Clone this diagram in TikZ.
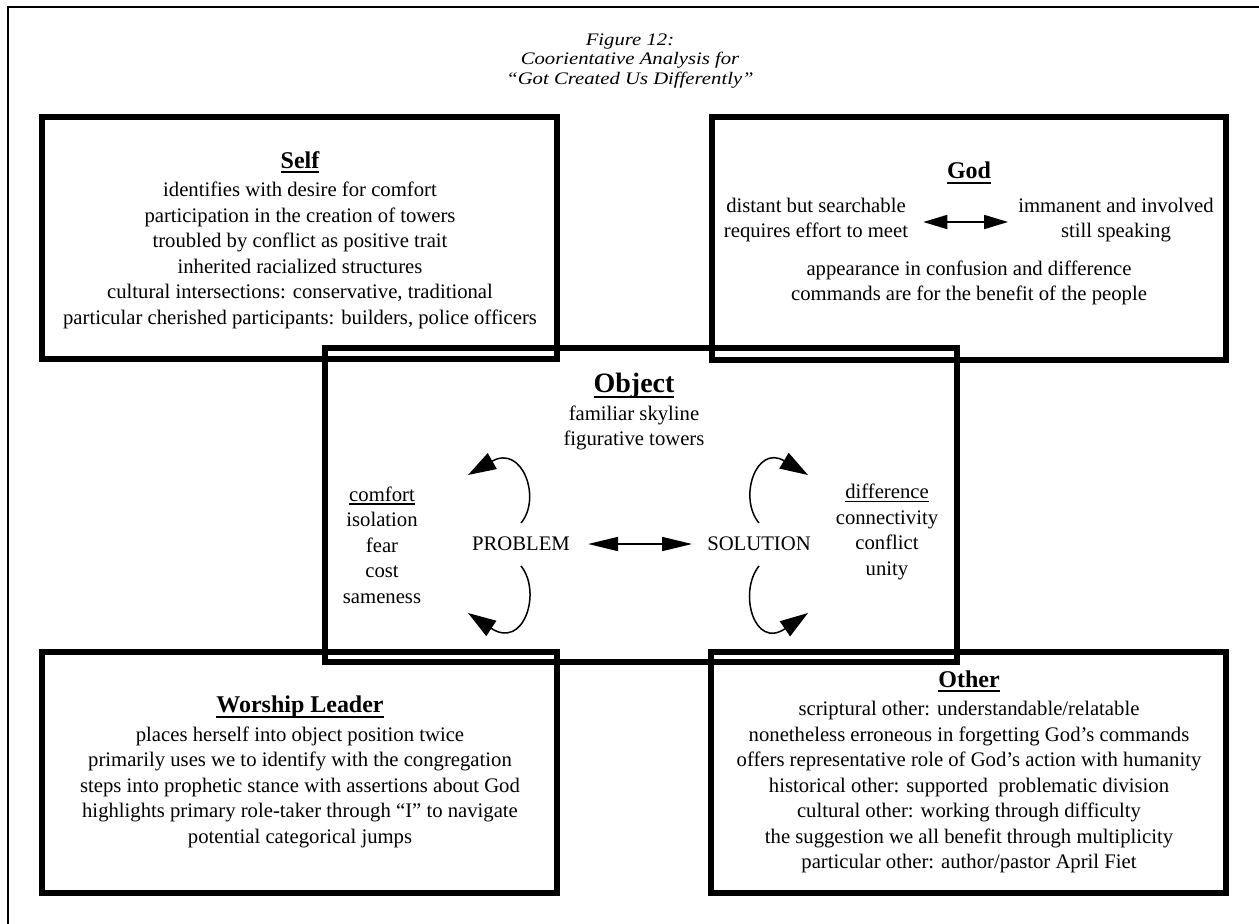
\documentclass[tikz,border=0pt]{standalone}
\usepackage{fontspec}
\setmainfont{Liberation Serif}
\usetikzlibrary{arrows.meta}
\newcommand\myul[3]{\setbox0\hbox{#1}\rlap{\rule[-#2]{\wd0}{#3}}\box0}
\newcommand\hdr[2][24]{{\fontsize{#1}{#1}\selectfont\bfseries\myul{#2}{5pt}{2.2pt}}}
\newcommand\sq[1]{\scalebox{1}[0.85]{#1}}
\begin{document}
\begin{tikzpicture}[x=1pt,y=-1pt,
  box/.style={line width=5.5pt},
  txt/.style={align=center,inner sep=0pt,font=\fontsize{20.7}{25.5}\selectfont},
  ttl/.style={align=center,inner sep=0pt,font=\fontsize{20.7}{19.5}\selectfont\itshape},
  dbl/.style={line width=1.8pt,{Triangle[length=30pt,width=14pt]}-{Triangle[length=30pt,width=14pt]}},
  dblg/.style={line width=1.8pt,{Triangle[length=24pt,width=14pt]}-{Triangle[length=24pt,width=14pt]}},
  loopar/.style={line width=1.5pt,-{Triangle[length=28pt,width=18pt]}}]
\useasboundingbox (0,0) rectangle (1259,924);
\fill[white] (0,0) rectangle (1259,924);
% outer frame
\draw[line width=2pt] (8,924) -- (8,7) -- (1259,7);
% boxes
\draw[box] (42,117) rectangle (557,359);
\draw[box] (712,117) rectangle (1226,360);
\draw[box] (325,348) rectangle (957,662);
\draw[box] (42,652) rectangle (557,893);
\draw[box] (711,652) rectangle (1226,893);
% title
\node[ttl] (title) at (630,61) {\sq{Figure 12:}\\\sq{Coorientative Analysis for}\\\sq{``Got Created Us Differently''}};
% Self
\node[txt] (self) at (300,240) {\hdr{Self}\\[3pt]
identifies with desire for comfort\\
participation in the creation of towers\\
troubled by conflict as positive trait\\
inherited racialized structures\\
cultural intersections: conservative, traditional\\
particular cherished participants: builders, police officers};
% God
\node[txt] (godh) at (969,173) {\hdr{God}};
\node[txt] (godl) at (816,220) {distant but searchable\\requires effort to meet};
\node[txt] (godr) at (1116,220) {immanent and involved\\still speaking};
\node[txt] (godb) at (969,283) {appearance in confusion and difference\\commands are for the benefit of the people};
\draw[dblg] ([xshift=15pt,yshift=-2pt]godl.east) -- ([xshift=-10pt,yshift=-2pt]godr.west);
% Object
\node[txt] (obj) at (634,412) {\hdr[28]{Object}\\[2pt]familiar skyline\\figurative towers};
\node[txt] (left) at (382,545) {\myul{comfort}{3.5pt}{1.4pt}\\isolation\\fear\\cost\\sameness};
\node[txt] (right) at (887,532) {\myul{difference}{3.5pt}{1.4pt}\\connectivity\\conflict\\unity};
\node[txt] (prob) at (521,544) {PROBLEM};
\node[txt] (sol) at (759,544) {SOLUTION};
\draw[dbl] ([xshift=18pt]prob.east) -- ([xshift=-15pt]sol.west);
% loops
\coordinate (pa1) at (521,523); \coordinate (pa2) at (468,475);
\coordinate (pb1) at (521,566); \coordinate (pb2) at (468,613);
\coordinate (sa1) at (759,523); \coordinate (sa2) at (808,475);
\coordinate (sb1) at (759,566); \coordinate (sb2) at (808,613);
\draw[loopar] (pa1) .. controls (542,498) and (522,444) .. (pa2);
\draw[loopar] (pb1) .. controls (542,592) and (524,650) .. (pb2);
\draw[loopar] (sa1) .. controls (738,498) and (756,444) .. (sa2);
\draw[loopar] (sb1) .. controls (738,592) and (754,650) .. (sb2);
% Worship Leader
\node[txt] (wl) at (300,772) {\hdr{Worship Leader}\\[3pt]
places herself into object position twice\\
primarily uses we to identify with the congregation\\
steps into prophetic stance with assertions about God\\
highlights primary role-taker through ``I'' to navigate\\
potential categorical jumps};
% Other
\node[txt] (oth) at (969,772) {\hdr{Other}\\[3pt]
scriptural other: understandable/relatable\\
nonetheless erroneous in forgetting God's commands\\
offers representative role of God's action with humanity\\
historical other: supported\ \ problematic division\\
cultural other: working through difficulty\\
the suggestion we all benefit through multiplicity\\
particular other: author/pastor April Fiet};
\end{tikzpicture}
\end{document}
